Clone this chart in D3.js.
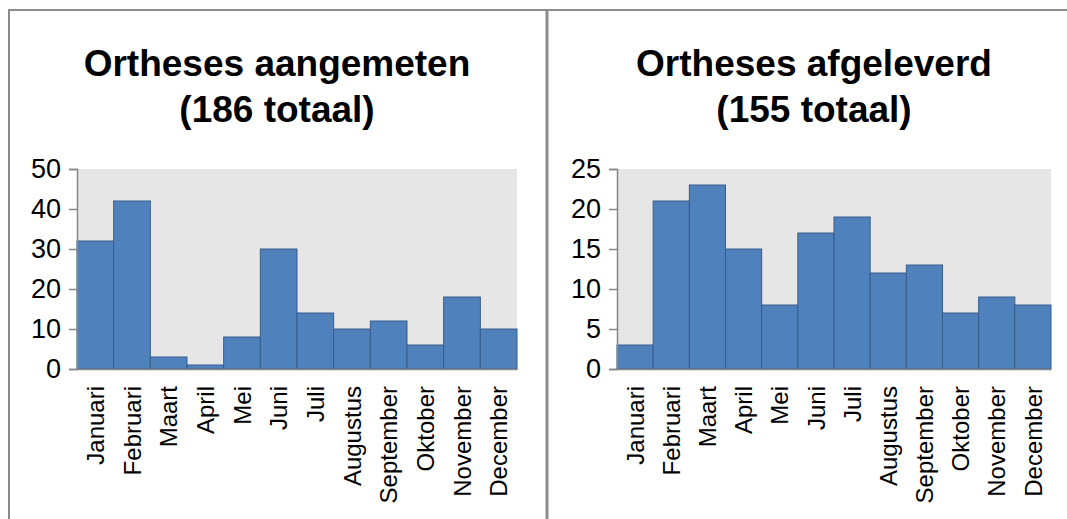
<!DOCTYPE html>
<html>
<head>
<meta charset="utf-8">
<script src="https://cdn.jsdelivr.net/npm/d3@7"></script>
<style>
  body { margin: 0; background: #fff; }
  svg { display: block; font-family: "Liberation Sans", Arial, sans-serif; }
</style>
</head>
<body>
<div class="chart"></div>
<script>
// data
const months = ["Januari", "Februari", "Maart", "April", "Mei", "Juni", "Juli",
                "Augustus", "September", "Oktober", "November", "December"];
const aangemeten = [32, 42, 3, 1, 8, 30, 14, 10, 12, 6, 18, 10];
const afgeleverd = [3, 21, 23, 15, 8, 17, 19, 12, 13, 7, 9, 8];
const aangemetenTicks = [0, 10, 20, 30, 40, 50];
const afgeleverdTicks = [0, 5, 10, 15, 20, 25];
const aangemetenTitle = ["Ortheses aangemeten", "(186 totaal)"];
const afgeleverdTitle = ["Ortheses afgeleverd", "(155 totaal)"];

const W = 1067, H = 519;
const svg = d3.select(".chart")
              .append("svg")
              .attr("width", W)
              .attr("height", H);

// frame lines round the two panels
svg.append("line").attr("x1", 8).attr("x2", W).attr("y1", 10).attr("y2", 10)
   .attr("stroke", "#8c8c8c").attr("stroke-width", 2);
svg.append("line").attr("x1", 9).attr("x2", 9).attr("y1", 9).attr("y2", H)
   .attr("stroke", "#8c8c8c").attr("stroke-width", 2);
svg.append("line").attr("x1", 547).attr("x2", 547).attr("y1", 9).attr("y2", H)
   .attr("stroke", "#8c8c8c").attr("stroke-width", 3);

function BarChart(left, right, values, ticks, title) {
    const top = 169, bottom = 369;
    const xScale = d3.scaleBand()
                     .domain(months)
                     .range([left, right])
                     .padding(0);
    const yScale = d3.scaleLinear()
                     .domain([0, d3.max(ticks)])
                     .range([bottom, top]);
    const g = svg.append("g");

    // plot background
    g.append("rect")
     .attr("x", left).attr("y", top)
     .attr("width", right - left).attr("height", bottom - top)
     .attr("fill", "#e6e6e6");

    // bars
    g.selectAll(".bar")
     .data(values)
     .join("rect")
     .attr("class", "bar")
     .attr("x", (d, i) => xScale(months[i]))
     .attr("y", d => yScale(d))
     .attr("width", xScale.bandwidth())
     .attr("height", d => yScale(0) - yScale(d))
     .attr("fill", "#4f81bd")
     .attr("stroke", "#385d8a")
     .attr("stroke-width", 1);

    // y axis
    const yAxis = d3.axisLeft(yScale)
                    .tickValues(ticks)
                    .tickSize(8)
                    .tickPadding(8)
                    .tickFormat(d3.format("d"));
    const drawY = g.append("g")
                   .attr("class", "axis y-axis")
                   .attr("transform", `translate(${left}, 0)`)
                   .call(yAxis);
    drawY.select(".domain").attr("stroke", "#868686").attr("stroke-width", 1.5);
    drawY.selectAll(".tick line").attr("stroke", "#868686").attr("stroke-width", 1.5);
    drawY.selectAll(".tick text")
         .attr("font-size", 27)
         .attr("fill", "#000")
         .attr("font-family", "Liberation Sans, Arial, sans-serif");

    // x axis
    const xAxis = d3.axisBottom(xScale).tickSize(0).tickPadding(0);
    const drawX = g.append("g")
                   .attr("class", "axis x-axis")
                   .attr("transform", `translate(0, ${bottom})`)
                   .call(xAxis);
    drawX.select(".domain").attr("stroke", "#868686").attr("stroke-width", 1.5);
    drawX.selectAll(".tick text")
         .attr("font-size", 24)
         .attr("fill", "#000")
         .attr("font-family", "Liberation Sans, Arial, sans-serif")
         .attr("text-anchor", "end")
         .attr("transform", "rotate(-90)")
         .attr("x", -17)
         .attr("y", 0)
         .attr("dy", "0.36em");

    // title
    const cx = (left + right) / 2 - 20;
    g.selectAll(".title")
     .data(title)
     .join("text")
     .attr("class", "title")
     .attr("x", cx)
     .attr("y", (d, i) => 76 + i * 46)
     .attr("text-anchor", "middle")
     .attr("font-size", 37)
     .attr("font-weight", "bold")
     .attr("fill", "#000")
     .text(d => d);
}

BarChart(77, 517, aangemeten, aangemetenTicks, aangemetenTitle);
BarChart(617, 1051, afgeleverd, afgeleverdTicks, afgeleverdTitle);
</script>
</body>
</html>
